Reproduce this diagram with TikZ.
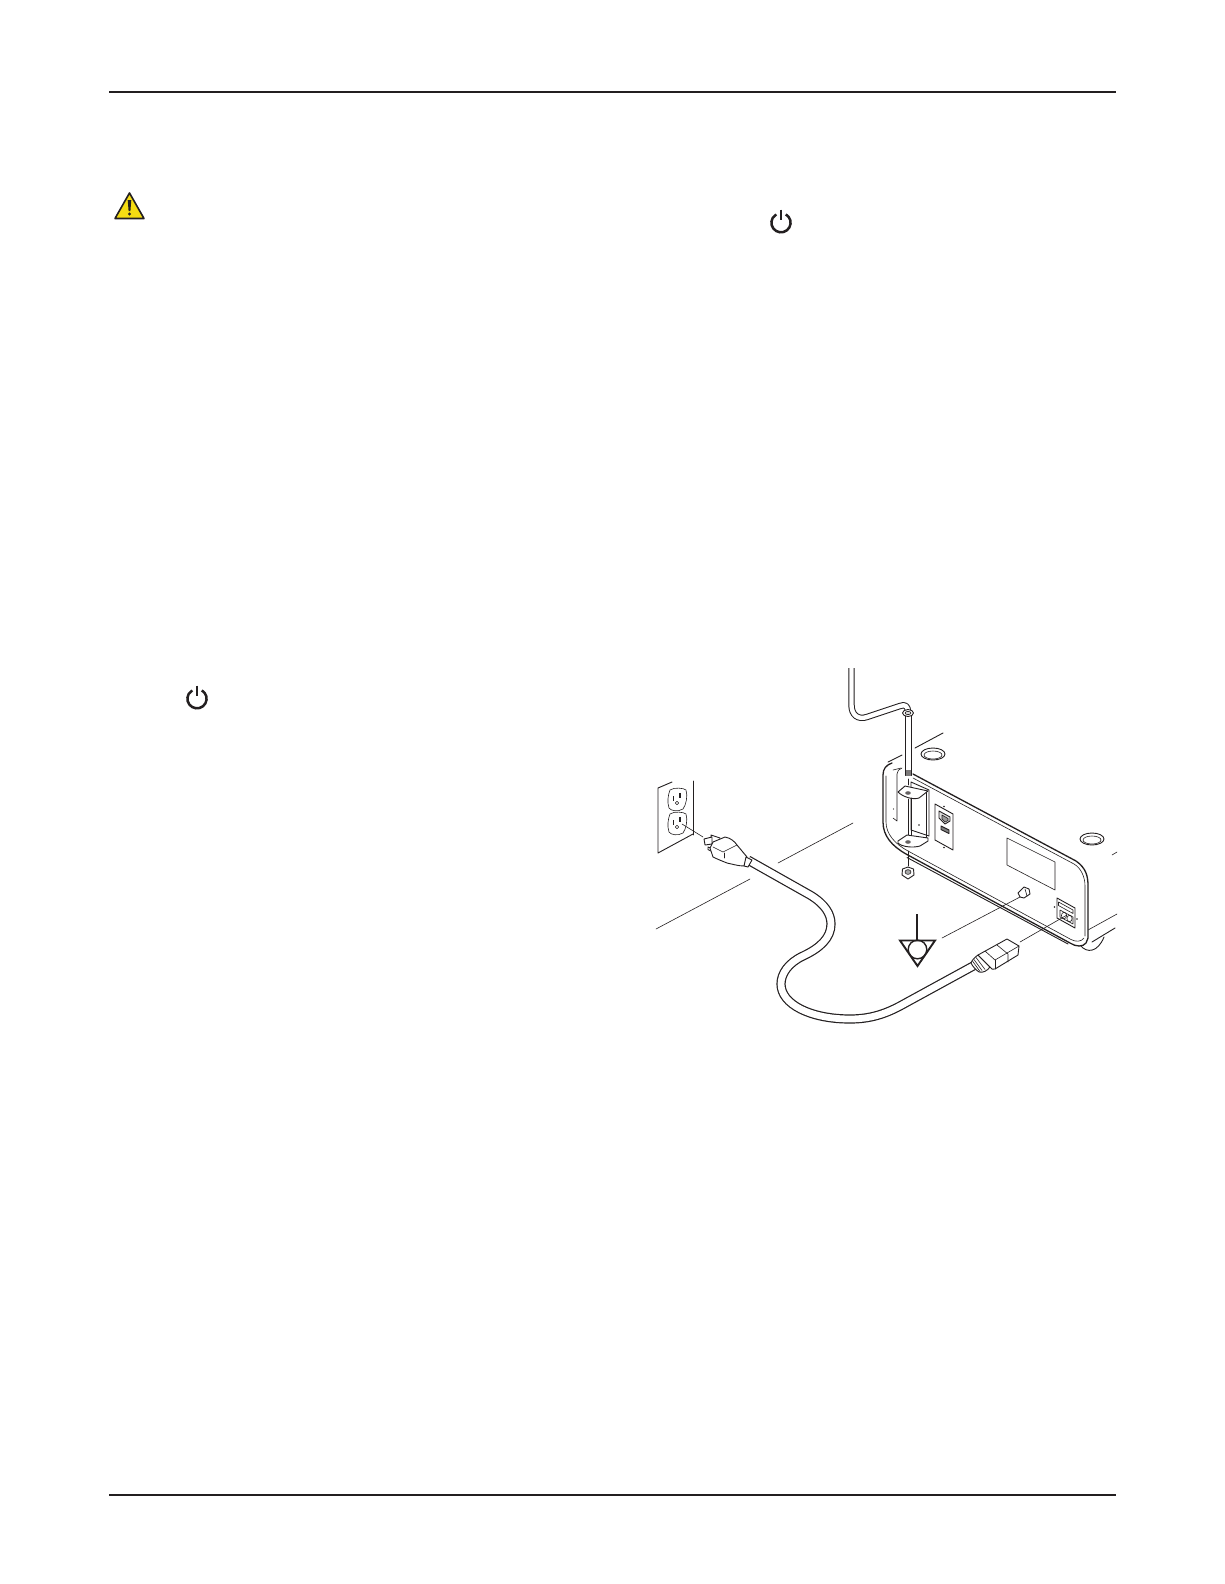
\documentclass[tikz,border=0pt]{standalone}
\usetikzlibrary{calc}
\definecolor{ink}{HTML}{231F20}
\definecolor{warn}{HTML}{F5DC12}
\tikzset{
 ln/.style={draw=ink,line width=0.9pt,line join=round,line cap=round},
 thin ln/.style={draw=ink,line width=0.6pt,line join=round,line cap=round},
 hv/.style={draw=ink,line width=1.3pt,line join=round,line cap=round},
 pf/.style={ln,fill=white},
 rule/.style={draw=ink,line width=1.5pt},
}
\begin{document}
\begin{tikzpicture}[x=1pt,y=-1pt]
\useasboundingbox[fill=white] (0,0) rectangle (1224,1584);
% page rules
\draw[rule] (109,92) -- (1116,92);
\draw[rule] (109,1495) -- (1116,1495);
% warning
\draw[ink,line width=1.6pt,fill=warn,line join=round] (129.5,193) -- (144,218.5) -- (115,218.5) -- cycle;
\fill[ink] (127.7,200) -- (131.3,200) -- (130.4,211) -- (128.6,211) -- cycle;
\fill[ink] (129.5,214) circle (1.7);
% power icons
\draw[ink,line width=2.5pt] (785.8,214.4) arc[start angle=-60,end angle=240,radius=9.6];
\draw[ink,line width=2.8pt] (781,209.5) -- (781,220);
\draw[ink,line width=2.5pt] (201.8,690.4) arc[start angle=-60,end angle=240,radius=9.6];
\draw[ink,line width=2.8pt] (197,685.5) -- (197,696);
% floor lines
\draw[thin ln] (778,863) -- (853,823);
\draw[thin ln] (656,929) -- (750,879);
% upper surface edges
\draw[ln] (943,733) -- (915,748);
\draw[ln] (902,755) -- (888,762);
\draw[thin ln] (1112,855) -- (1117,852);
\draw[thin ln] (1088,930) -- (1117,914);
\draw[ln] (1092,942) -- (1115,928);
% top holes
\draw[ln] (933,754) ellipse (12 and 6);
\draw[thin ln] (933,755) ellipse (9 and 4);
\draw[ln] (1092,839) ellipse (12 and 6);
\draw[thin ln] (1092,840) ellipse (9 and 4);
% foot
\draw[ln] (1080,945) .. controls (1087,954) and (1098,952) .. (1104,937);
% rear panel
\draw[hv,fill=white] (892,763) .. controls (886,765) and (883,769) .. (883,775) -- (883,822)
 .. controls (883,836) and (892,846) .. (906,854) -- (1070,943)
 .. controls (1076,947) and (1083,947) .. (1086,943)
 -- (1088,938) -- (1088,886) .. controls (1088,876) and (1086,868) .. (1076,861) -- (913,774);
\draw[thin ln] (913,778) -- (1074,864) .. controls (1081,868) and (1085,877) .. (1085,886) -- (1085,936);
\draw[thin ln] (886,776) -- (886,822) .. controls (886,834) and (895,844) .. (908,851) -- (1071,939.5) .. controls (1076,942) and (1081,942) .. (1084,938);
\draw[ln] (907,857.5) -- (1068,944);
\draw[thin ln] (893,770) -- (901,768);
% left side inner slot
\draw[thin ln] (902,768) .. controls (899,769) and (897,771) .. (897,774) -- (897,821) -- (893,818);
\fill[ink] (893.5,809) circle (0.7);
% bracket box
\draw[ln,fill=white] (911,782) -- (929,790) -- (929,836) -- (911,830) -- cycle;
\draw[ln] (926,792) -- (926,838);
\fill[ink] (919,825) circle (0.9);
% top flap
\draw[pf] (898,792) -- (905,786) -- (928,791) -- (919,798) .. controls (913,800) and (903,797) .. (898,792) -- cycle;
\fill[ink!70] (908,793) ellipse (2.8 and 1.8);
% rods between flaps
\draw[ln] (908,799) -- (908,836);
\draw[ln] (911,798) -- (911,836);
% bottom flap
\draw[pf] (898,841) -- (907,835) -- (928,838) -- (928,841) -- (920,846) .. controls (913,848) and (902,847) .. (898,843) -- cycle;
\fill[ink!70] (908,842) ellipse (2.8 and 1.8);
% screw guide dashes
\draw[thin ln] (908,779) -- (908,785);
\draw[thin ln] (908,851) -- (908,866);
% nut
\draw[ln,fill=white] (902.5,869) -- (908,867) -- (913.5,869) -- (914,875) -- (908,879) -- (902,875) -- cycle;
\draw[thin ln,fill=black!35] (908,872) ellipse (3 and 2.4);
% rod and pipe
\draw[draw=ink,line width=6.4pt,line cap=butt,line join=round] (851.5,668)
 -- (851.5,705) .. controls (851.5,715) and (858,720) .. (867,717) -- (900,706) .. controls (905,704) and (908,706) .. (908,712);
\draw[draw=white,line width=4.4pt,line cap=butt,line join=round] (851.5,667)
 -- (851.5,705) .. controls (851.5,715) and (858,720) .. (867,717) -- (900,706) .. controls (905,704) and (908,706) .. (908,712);
\draw[ln,fill=white] (905,713) rectangle (911,775);
\fill[ink!60] (905.5,770) rectangle (910.5,775.5);
\draw[pf] (908,713) ellipse (5.5 and 3.5);
\draw[thin ln,fill=black!15] (908,713) ellipse (3 and 1.6);
% port plate
\draw[ln] (935,804) -- (953,814) -- (953,850) -- (935,840) -- cycle;
\fill[ink] (944,806.5) circle (0.9);
\fill[ink] (944,847.5) circle (0.9);
\draw[ln,fill=black!12] (939,811) -- (950,817) -- (950,821) -- (945,824) -- (939,818) -- cycle;
\draw[thin ln,fill=black!40] (942,815) -- (948,818.5) -- (948,820.5) -- (945,822) -- (942,819) -- cycle;
\draw[ln,fill=black!50] (941,826) -- (949,830) -- (949,833.5) -- (941,829.5) -- cycle;
% label
\draw[thin ln] (1007,838) -- (1055,862) -- (1055,890) -- (1007,865) -- cycle;
% ground stud + power inlet
\draw[ln,fill=white] (1018,893) -- (1024,887) -- (1029,889) -- (1030,894) -- (1024,898) -- (1020,897) -- cycle;
\draw[thin ln] (1025,889) -- (1027,896);
\draw[ln] (1057,898) -- (1075,908) -- (1075,928) -- (1057,918) -- cycle;
\draw[thin ln] (1058.5,902) -- (1073,910) -- (1073,913.5) -- (1058.5,905.5) -- cycle;
\draw[thin ln] (1060,910) -- (1073,917) -- (1073,924) -- (1060,917) -- cycle;
\draw[thin ln] (1064,915.5) ellipse (2.6 and 3.2);
\draw[thin ln] (1069.5,918.5) ellipse (2.6 and 3.2);
\fill[ink] (1054.5,907) circle (0.8); \fill[ink] (1077,919) circle (0.8);
% leaders
\draw[thin ln] (942,938) -- (1020,897);
\draw[thin ln] (1020,942) -- (1067,915);
% ground symbol
\draw[draw=ink,line width=1.9pt] (917,914) -- (917,940);
\draw[draw=ink,line width=1.9pt,line join=miter] (900,940.5) -- (935,940.5) -- (917.5,966) -- cycle;
\draw[draw=ink,line width=1.4pt] (917.5,949.5) circle (9.3);
% cord
\def\cordpath{(748,860) -- (810,895) .. controls (825,904) and (831,914) .. (831,924)
 .. controls (831,938) and (820,948) .. (803,956) .. controls (788,963) and (781,974) .. (781,984)
 .. controls (781,1004) and (810,1019) .. (850,1019) .. controls (870,1019) and (885,1014) .. (900,1006) -- (975,965)}
\draw[draw=ink,line width=9.2pt,line cap=butt,line join=round] \cordpath;
\draw[draw=white,line width=6.8pt,line cap=butt,line join=round] \cordpath;
% wall plate and outlets
\draw[ln] (672,782) -- (658,788) -- (658,853) -- (693,834);
\draw[ln] (693,781) -- (693,835);
\draw[thin ln] (670,790) .. controls (674,787) and (684,788) .. (686,790) .. controls (688,796) and (686,805) .. (683,809) .. controls (678,812) and (671,811) .. (669,808) .. controls (667,802) and (668,795) .. (670,790) -- cycle;
\draw[thin ln] (670,814) .. controls (674,811) and (684,812) .. (686,814) .. controls (688,820) and (686,829) .. (683,833) .. controls (678,836) and (671,835) .. (669,832) .. controls (667,826) and (668,819) .. (670,814) -- cycle;
\draw[draw=ink,line width=1.5pt] (673.5,796) -- (673.5,801);
\draw[draw=ink,line width=1.5pt] (680,793) -- (680,798);
\draw[thin ln] (677,803) circle (1.7);
\draw[draw=ink,line width=1.5pt] (673.5,820) -- (673.5,825);
\draw[draw=ink,line width=1.5pt] (680,817) -- (680,822);
\draw[thin ln] (677,827) circle (1.7);
\draw[thin ln] (682,824) -- (703,837);
% mains plug
\draw[pf] (711,835) -- (720,838) -- (720,841) -- (712,845) -- cycle;
\draw[pf] (704,839) -- (712,837) -- (712,844) -- (705,845) -- cycle;
\draw[pf] (708,847) -- (713,849) -- (711,851) -- (708,849.5) -- cycle;
\draw[pf] (713,842) -- (725,837) .. controls (731,838) and (735,842) .. (737,845)
 -- (747,857) -- (744,866) .. controls (738,866) and (732,864) .. (727,863) .. controls (722,861) and (717,859) .. (713,857) -- (710,848) -- cycle;
\draw[thin ln] (713,847) -- (723,852) -- (737,845);
\draw[ln] (724,853) -- (724,858);
\draw[pf] (746,857) -- (752,860) -- (748,867) -- (744,866) -- cycle;
% IEC connector
\draw[pf] (971,963) .. controls (972,960) and (975,957) .. (978,955) -- (990,967) .. controls (987,971) and (983,973) .. (979,972) .. controls (976,970) and (973,967) .. (971,963) -- cycle;
\draw[thin ln] (974,959.5) -- (982,970.5);
\draw[thin ln] (976,957.5) -- (985,969.5);
\draw[thin ln] (972.5,961) -- (980,971.5);
\draw[pf] (978,955) -- (1007,939) -- (1019,946) -- (1018,955) -- (995,969) .. controls (993,970) and (991,969) .. (990,967) -- cycle;
\draw[thin ln] (985,951) -- (995,960) -- (1019,946);
\draw[thin ln] (995,960) -- (995,969);
\draw[thin ln] (997,945) -- (1008,954) -- (1008,962);
\end{tikzpicture}
\end{document}
